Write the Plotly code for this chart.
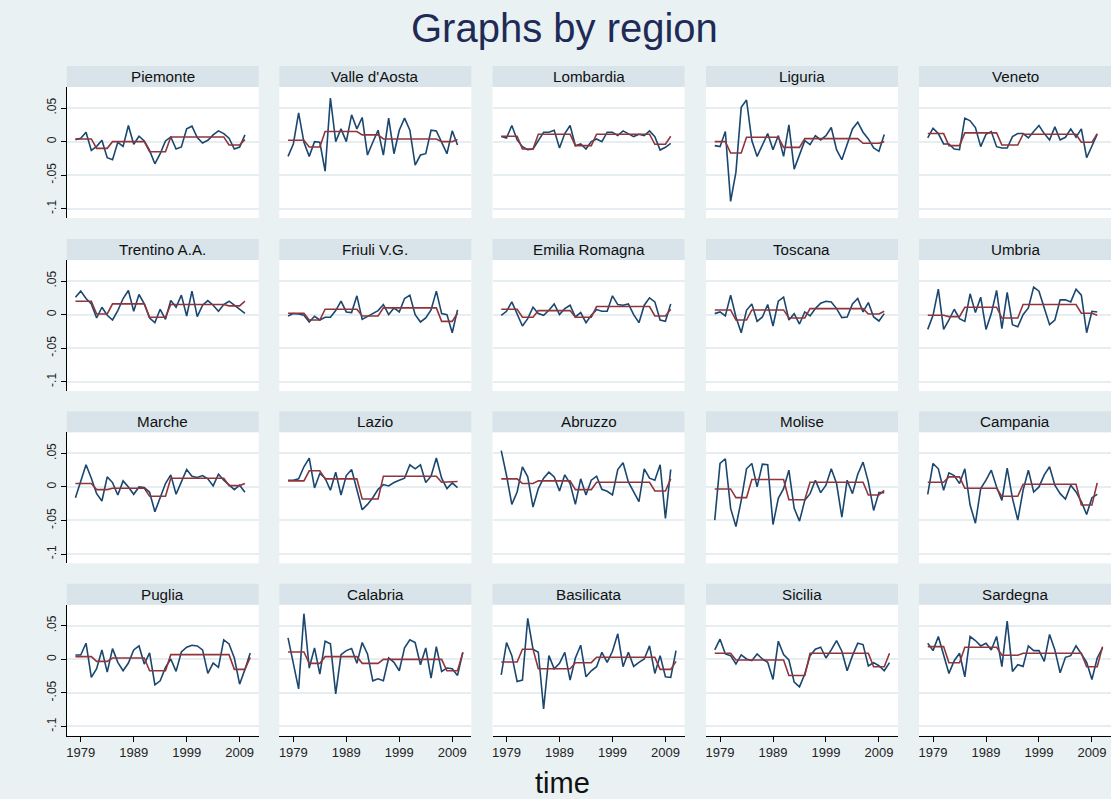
import plotly.graph_objects as go

# ---- data: yearly growth (blue) and regime means (red) by region ----
years_short = list(range(1978, 2011))   # 1978-2010
years_long = list(range(1978, 2012))    # 1978-2011

piemonte_obs = [.003, .005, .014, -.013, -.007, .002, -.024, -.027, -.001, -.007, .024, -.004, .008, .001, -.013, -.033, -.018, .001, .007, -.011, -.008, .019, .023, .006, -.002, .002, .010, .016, .012, .005, -.011, -.008, .010]
piemonte_fit = [.004, .004, .004, .004, -.010, -.010, -.010, 0, 0, 0, 0, 0, 0, 0, -.015, -.015, -.015, -.015, .007, .007, .007, .007, .007, .007, .007, .007, .007, .007, .007, -.005, -.005, -.005, .003]

valle_obs = [-.022, -.0035, .043, -.001, -.022, 0, -.001, -.044, .065, 0, .019, 0, .040, .019, .036, -.020, -.001, .017, -.020, .035, -.018, .017, .035, .017, -.035, -.020, -.018, .017, .016, -.001, -.018, .016, -.005]
valle_fit = [.002, .002, .002, .002, -.008, -.008, -.008, .015, .015, .015, .015, .015, .015, .015, .010, .010, .010, .010, .004, .004, .004, .004, .004, .004, .004, .004, .004, .004, .004, 0, 0, 0, .003]

lombardia_obs = [.0075, .0055, .024, .0025, -.0075, -.012, -.011, .0025, .014, .014, .017, -.0095, .012, .024, -.006, -.0035, -.011, 0, .004, 0, .014, .014, .009, .016, .012, .0075, .011, .009, .016, .0075, -.0125, -.0085, -.0025]
lombardia_fit = [.008, .008, .008, .008, -.011, -.011, -.011, .011, .011, .011, .011, .011, .011, .011, -.006, -.006, -.006, -.006, .011, .011, .011, .011, .011, .011, .011, .011, .011, .011, .011, -.004, -.004, -.004, .008]

liguria_obs = [-.006, -.0075, .015, -.089, -.0455, .051, .062, .0015, -.022, -.006, .012, -.012, .009, -.022, .025, -.041, -.020, .0015, -.0045, .009, .0025, .009, .021, -.012, -.027, -.0035, .019, .029, .014, .004, -.0095, -.0145, .0105]
liguria_fit = [0, 0, 0, -.017, -.017, -.017, .0065, .0065, .0065, .0065, .0065, .0065, .0065, -.0085, -.0085, -.0085, -.0085, .0045, .0045, .0045, .0045, .0045, .0045, .0045, .0045, .0045, .0045, .0045, -.0025, -.0025, -.0025, -.0025, 0]

veneto_obs = [.0055, .020, .012, -.0035, -.0035, -.011, -.012, .035, .031, .021, -.0075, .011, .015, -.0075, -.0095, -.0095, .0075, .012, .012, .0055, .015, .024, .012, .0025, .022, .0025, .0065, .019, .0065, .019, -.024, -.006, .011]
veneto_fit = [.012, .012, .012, .012, -.006, -.006, -.006, .013, .013, .013, .013, .013, .013, .013, -.005, -.005, -.005, -.005, .011, .011, .011, .011, .011, .011, .011, .011, .011, .011, .011, -.001, -.001, -.001, .012]

trentino_obs = [.026, .035, .024, .016, -.005, .011, -.001, -.008, .006, .024, .036, .005, .030, .016, -.005, -.012, .008, -.007, .021, .011, .029, -.002, .035, -.003, .014, .021, .014, .005, .015, .020, .014, .008, .002]
trentino_fit = [.020, .020, .020, .020, .001, .001, .001, .016, .016, .016, .016, .016, .016, .016, -.004, -.004, -.004, -.004, .015, .015, .015, .015, .015, .015, .015, .015, .015, .015, .015, .013, .013, .013, .020]

friuli_obs = [-.002, .0015, .001, -.001, -.011, -.0025, -.008, -.004, -.004, .006, .020, .004, .003, .028, -.007, -.003, .0015, .006, .015, 0, .010, .004, .024, .029, 0, -.011, -.005, .007, .035, .0015, 0, -.027, .007]
friuli_fit = [.002, .002, .002, .002, -.008, -.008, -.008, .008, .008, .008, .008, .008, .008, .008, -.002, -.002, -.002, -.002, .010, .010, .010, .010, .010, .010, .010, .010, .010, .010, .010, -.010, -.010, -.010, .002]

emilia_obs = [-.001, .005, .019, 0, -.017, -.006, .011, .0015, -.001, .0065, .016, 0, .009, .014, -.0035, .003, -.012, -.001, .0075, .005, .005, .028, .015, .014, .016, 0, -.012, .014, .025, .019, -.008, -.010, .016]
emilia_fit = [.008, .008, .008, .008, -.004, -.004, -.004, .006, .006, .006, .006, .006, .006, .006, -.004, -.004, -.004, -.004, .012, .012, .012, .012, .012, .012, .012, .012, .012, .012, .012, -.002, -.002, -.002, .008]

toscana_obs = [.0015, .004, -.002, .029, -.0035, -.027, .0065, .016, -.010, -.0035, .015, -.017, .020, .026, -.008, .0015, -.014, .004, -.002, .009, .017, .020, .019, .009, -.0045, -.0035, .016, .024, .004, .018, -.0035, -.0095, .0015]
toscana_fit = [.007, .007, .007, .007, -.008, -.008, -.008, .007, .007, .007, .007, .007, .007, .007, -.005, -.005, -.005, -.005, .009, .009, .009, .009, .009, .009, .009, .009, .009, .009, .009, .001, .001, .001, .005]

umbria_obs = [-.022, -.001, .038, -.022, -.008, .008, -.006, -.010, .031, .003, .026, -.022, .0015, .036, -.021, .033, -.015, -.018, 0, .010, .041, .035, .010, -.015, -.008, .022, .022, .019, .038, .029, -.027, .005, .004]
umbria_fit = [-.001, -.001, -.001, -.001, -.003, -.003, -.003, .011, .011, .011, .011, .011, .011, .011, -.005, -.005, -.005, -.005, .015, .015, .015, .015, .015, .015, .015, .015, .015, .015, .015, .002, .002, .002, -.001]

marche_obs = [-.016, .0075, .033, .013, -.010, -.021, .015, .0065, -.012, .009, 0, -.011, 0, -.001, -.008, -.037, -.015, .005, .018, -.011, .0075, .026, .016, .014, .017, .012, .0015, .019, .010, .0035, -.004, .0025, -.008]
marche_fit = [.005, .005, .005, .005, -.004, -.004, -.004, -.002, -.002, -.002, -.002, -.002, -.002, -.002, -.014, -.014, -.014, -.014, .013, .013, .013, .013, .013, .013, .013, .013, .013, .013, .013, .002, .002, .002, .005]

lazio_obs = [.010, .010, .012, .030, .043, -.0015, .020, .013, -.005, .022, -.012, .017, .026, -.0025, -.034, -.026, -.016, -.0035, .0035, .0015, .0065, .010, .013, .033, .027, .033, .0065, .016, .043, .013, -.0025, .006, -.001]
lazio_fit = [.009, .009, .009, .009, .024, .024, .024, .012, .012, .012, .012, .012, .012, .012, -.018, -.018, -.018, -.018, .016, .016, .016, .016, .016, .016, .016, .016, .016, .016, .016, .007, .007, .007, .008]

abruzzo_obs = [.054, .017, -.026, -.0075, .030, .015, -.030, -.0025, .013, .022, .015, -.006, .018, .005, -.026, .012, -.012, .010, .016, -.0035, -.0065, -.012, .026, .036, .0075, -.008, -.022, .027, .013, .010, .033, -.047, .026]
abruzzo_fit = [.012, .012, .012, .012, .005, .005, .005, .009, .009, .009, .009, .009, .009, .009, -.004, -.004, -.004, -.004, .007, .007, .007, .007, .007, .007, .007, .007, .007, .007, .007, -.006, -.006, -.006, .012]

molise_obs = [-.0495, .035, .042, -.032, -.059, -.020, .027, .035, 0, .034, .033, -.056, -.017, -.0025, .025, -.032, -.051, -.020, -.010, .010, -.0085, .0025, .027, .005, -.045, .010, -.010, .019, .037, .0075, -.035, -.0085, -.0085]
molise_fit = [-.003, -.003, -.003, -.003, -.016, -.016, -.016, .011, .011, .011, .011, .011, .011, .011, -.019, -.019, -.019, -.019, .007, .007, .007, .007, .007, .007, .007, .007, .007, .007, .007, -.012, -.012, -.012, -.005]

campania_obs = [-.011, .035, .027, -.005, .021, .017, .005, .027, -.027, -.054, -.0025, .010, .025, 0, -.020, .028, -.017, -.0495, -.005, .025, -.0075, 0, .018, .030, .0025, -.010, -.018, .0025, -.0075, -.022, -.041, -.016, -.011]
campania_fit = [.007, .007, .007, .007, .015, .015, .015, -.002, -.002, -.002, -.002, -.002, -.002, -.002, -.014, -.014, -.014, -.014, .004, .004, .004, .004, .004, .004, .004, .004, .004, .004, .004, -.027, -.027, -.027, .006]

puglia_obs = [.0065, .0065, .024, -.027, -.014, .014, -.019, .016, -.0045, -.017, -.0055, .014, .020, -.007, .0095, -.038, -.032, -.012, .0005, -.018, .011, .018, .021, .020, .014, -.021, -.0055, -.012, .029, .023, .002, -.037, -.015, .0095]
puglia_fit = [.004, .004, .004, .004, -.003, -.003, -.003, .002, .002, .002, .002, .002, .002, .002, -.017, -.017, -.017, -.017, .007, .007, .007, .007, .007, .007, .007, .007, .007, .007, .007, .007, -.015, -.015, -.015, .003]

calabria_obs = [.032, -.0045, -.044, .068, -.013, .017, -.022, .027, .023, -.0515, .007, .013, .016, -.006, .025, .008, -.032, -.029, -.032, .002, -.0045, -.017, .017, .029, .025, -.008, .017, -.028, .019, -.018, -.013, -.014, -.024, .0105]
calabria_fit = [.011, .011, .011, .011, -.006, -.006, -.006, .004, .004, .004, .004, .004, .004, .004, -.006, -.006, -.006, -.006, 0, 0, 0, 0, 0, 0, 0, 0, 0, 0, 0, 0, -.017, -.017, -.017, .010]

basilicata_obs = [-.023, .025, .0055, -.033, -.031, .061, .015, .0105, -.074, .0055, -.014, -.006, .0105, -.031, .002, .021, -.026, -.017, -.011, .0105, -.0045, .012, .038, -.011, .0105, -.0105, -.0045, .0005, .020, -.021, .0055, -.026, -.027, .013]
basilicata_fit = [-.004, -.004, -.004, -.004, .015, .015, .015, -.014, -.014, -.014, -.014, -.014, -.014, -.014, -.005, -.005, -.005, -.005, .003, .003, .003, .003, .003, .003, .003, .003, .003, .003, .003, .003, -.015, -.015, -.015, -.003]

sicilia_obs = [.014, .030, .008, .0055, -.007, .0065, .0005, -.002, .008, .0005, -.0045, -.030, .027, .007, -.001, -.034, -.041, -.022, .0055, .015, .018, .002, .014, .028, .012, -.017, .0055, .024, .022, -.010, -.005, -.0095, -.017, -.005]
sicilia_fit = [.009, .009, .009, .009, -.001, -.001, -.001, -.001, -.001, -.001, -.001, -.001, -.001, -.001, -.024, -.024, -.024, -.024, .009, .009, .009, .009, .009, .009, .009, .009, .009, .009, .009, .009, -.011, -.011, -.011, .009]

sardegna_obs = [.024, .013, .034, .0055, -.021, -.002, .009, -.026, .034, .028, .020, .024, .014, .034, -.011, .057, -.018, -.008, -.0105, .020, .013, .013, -.003, .037, .014, -.020, .003, .0055, .020, .008, -.0045, -.030, .002, .017]
sardegna_fit = [.019, .019, .019, .019, -.005, -.005, -.005, .018, .018, .018, .018, .018, .018, .018, .006, .006, .006, .006, .009, .009, .009, .009, .009, .009, .009, .009, .009, .009, .009, .009, -.011, -.011, -.011, .019]

regions = ["Piemonte", "Valle d'Aosta", "Lombardia", "Liguria", "Veneto",
           "Trentino A.A.", "Friuli V.G.", "Emilia Romagna", "Toscana", "Umbria",
           "Marche", "Lazio", "Abruzzo", "Molise", "Campania",
           "Puglia", "Calabria", "Basilicata", "Sicilia", "Sardegna"]
observed = [piemonte_obs, valle_obs, lombardia_obs, liguria_obs, veneto_obs,
            trentino_obs, friuli_obs, emilia_obs, toscana_obs, umbria_obs,
            marche_obs, lazio_obs, abruzzo_obs, molise_obs, campania_obs,
            puglia_obs, calabria_obs, basilicata_obs, sicilia_obs, sardegna_obs]
fitted = [piemonte_fit, valle_fit, lombardia_fit, liguria_fit, veneto_fit,
          trentino_fit, friuli_fit, emilia_fit, toscana_fit, umbria_fit,
          marche_fit, lazio_fit, abruzzo_fit, molise_fit, campania_fit,
          puglia_fit, calabria_fit, basilicata_fit, sicilia_fit, sardegna_fit]

x_ticks = [1979, 1989, 1999, 2009]
y_ticks = [-0.1, -0.05, 0, 0.05]
y_tick_text = ["-.1", "-.05", "0", ".05"]

# ---- styling / geometry (pixels) ----
W, H = 1111, 799
BG = "#EAF1F3"
STRIP = "#D8E4EA"
GRID = "#E6EEF1"
BLUE = "#1A476F"
RED = "#90353B"
FONT = "Liberation Sans, Arial, sans-serif"

col_left = [66.7, 279.3, 492.5, 706.0, 919.0]
panel_w = 192.0
row_top = [66.0, 239.0, 411.3, 583.7]
strip_h = 21.0
plot_h = 131.0

fig = go.Figure()
shapes = []
annotations = []
layout_axes = {}

for k, name in enumerate(regions):
    r, c = divmod(k, 5)
    n = k + 1
    xa = "x" if n == 1 else f"x{n}"
    ya = "y" if n == 1 else f"y{n}"
    yrs = years_long if len(observed[k]) == 34 else years_short

    fig.add_trace(go.Scatter(x=yrs, y=observed[k], mode="lines",
                             line=dict(color=BLUE, width=1.6),
                             xaxis=xa, yaxis=ya, showlegend=False, hoverinfo="skip"))
    fig.add_trace(go.Scatter(x=yrs, y=fitted[k], mode="lines",
                             line=dict(color=RED, width=1.6),
                             xaxis=xa, yaxis=ya, showlegend=False, hoverinfo="skip"))

    x0 = col_left[c]
    x1 = x0 + panel_w
    top = row_top[r]
    p_top = top + strip_h
    p_bot = p_top + plot_h

    left_col = c == 0
    bottom_row = r == 3

    xkey = "xaxis" if n == 1 else f"xaxis{n}"
    ykey = "yaxis" if n == 1 else f"yaxis{n}"
    layout_axes[xkey] = dict(
        domain=[x0 / W, x1 / W], anchor=ya, range=[1976.35, 2012.6],
        showgrid=False, zeroline=False,
        showline=bottom_row, linecolor="#000000", linewidth=1,
        tickmode="array", tickvals=x_ticks,
        ticktext=[str(t) for t in x_ticks] if bottom_row else [""] * 4,
        ticks="outside" if bottom_row else "", ticklen=5, tickcolor="#000000",
        tickfont=dict(family=FONT, size=13, color="#222222"),
        fixedrange=True,
    )
    layout_axes[ykey] = dict(
        domain=[1 - p_bot / H, 1 - p_top / H], anchor=xa, range=[-0.1138, 0.0814],
        showgrid=True, gridcolor=GRID, gridwidth=1.5, zeroline=False,
        showline=left_col, linecolor="#000000", linewidth=1,
        tickmode="array", tickvals=y_ticks,
        ticktext=y_tick_text if left_col else [""] * 4,
        ticks="outside" if left_col else "", ticklen=5, tickcolor="#000000",
        tickangle=-90,
        tickfont=dict(family=FONT, size=12, color="#222222"),
        fixedrange=True,
    )

    shapes.append(dict(type="rect", xref="paper", yref="paper",
                       x0=x0 / W, x1=x1 / W, y0=1 - p_top / H, y1=1 - top / H,
                       fillcolor=STRIP, line=dict(width=0), layer="below"))
    annotations.append(dict(text=name, xref="paper", yref="paper",
                            x=(x0 + x1) / 2 / W, y=1 - (top + strip_h / 2) / H,
                            xanchor="center", yanchor="middle", showarrow=False,
                            font=dict(family=FONT, size=15.2, color="#111111")))

annotations.append(dict(text="Graphs by region", xref="paper", yref="paper",
                        x=564 / W, y=1 - 28 / H, xanchor="center", yanchor="middle",
                        showarrow=False,
                        font=dict(family=FONT, size=40, color="#1E2B57")))
annotations.append(dict(text="time", xref="paper", yref="paper",
                        x=562 / W, y=1 - 783 / H, xanchor="center",
                        yanchor="middle", showarrow=False,
                        font=dict(family=FONT, size=29, color="#111111")))

fig.update_layout(
    width=W, height=H,
    margin=dict(l=0, r=0, t=0, b=0),
    paper_bgcolor=BG, plot_bgcolor="#FFFFFF",
    shapes=shapes, annotations=annotations,
    showlegend=False,
    **layout_axes,
)

fig.write_html("out.html", config={"displayModeBar": False})
